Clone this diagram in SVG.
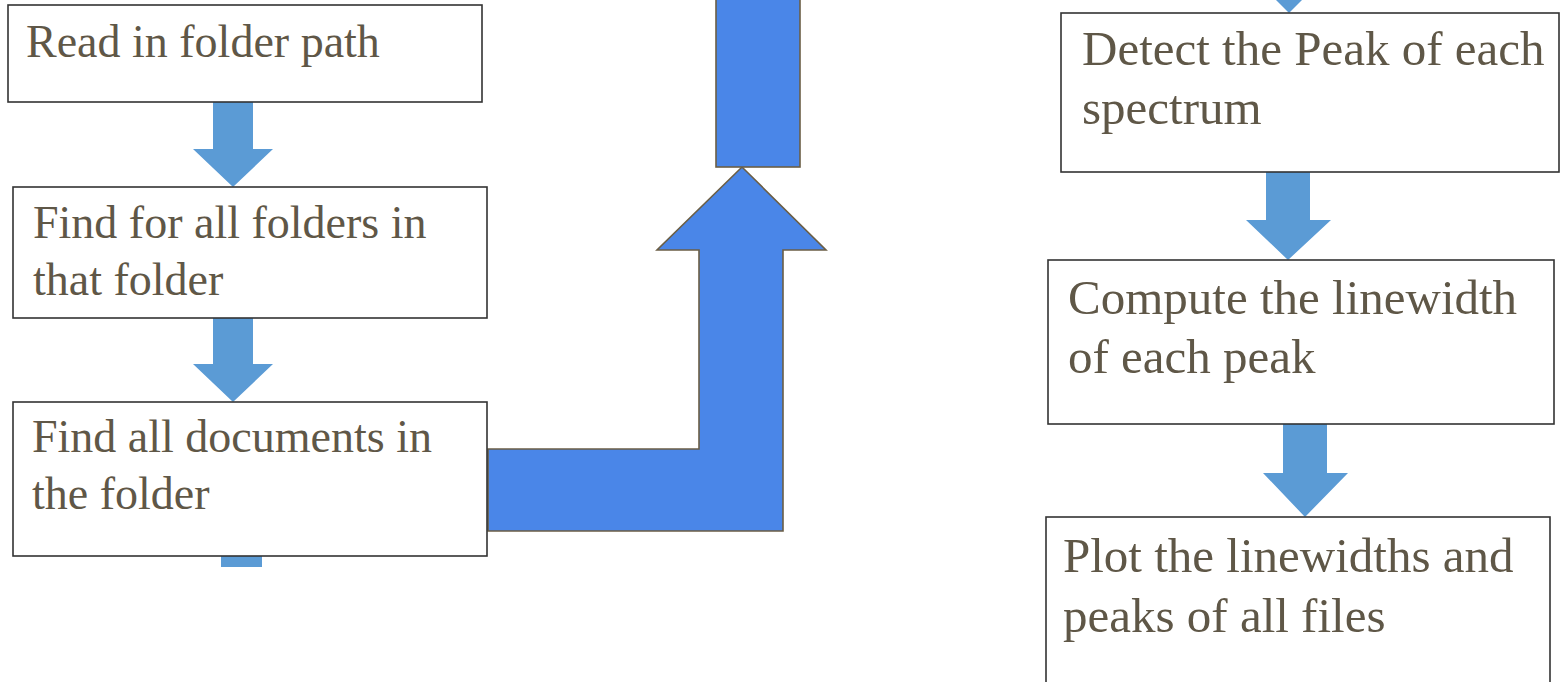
<svg xmlns="http://www.w3.org/2000/svg" width="1561" height="682" viewBox="0 0 1561 682">
<style>
.box{fill:#ffffff;stroke:#333333;stroke-width:1.6}
.t{font-family:"Liberation Serif","Times New Roman",serif;fill:#5f5747}
.l{font-size:46px}
.r{font-size:49px}
.sa{fill:#5b9bd5}
.big{fill:#4a86e8;stroke:#6b5e45;stroke-width:1.6;stroke-linejoin:miter}
</style>
<rect width="1561" height="682" fill="#ffffff"/>
<g id="connectors">
<polygon class="sa" points="213,102 253,102 253,149 273,149 233,187 193,149 213,149"/>
<polygon class="sa" points="213,318 253,318 253,364 273,364 233,402 193,364 213,364"/>
<rect class="sa" x="221" y="556" width="41" height="11"/>
<polygon class="big" points="488,449 699,449 699,250 657,250 742,167 826,250 783,250 783,531 488,531"/>
<rect class="big" x="716" y="-4" width="84" height="171"/>
<polygon class="sa" points="1247,-29 1331,-29 1289,13"/>
<polygon class="sa" points="1266,172 1310,172 1310,220 1331,220 1288,260 1246,220 1266,220"/>
<polygon class="sa" points="1283,424 1327,424 1327,473 1348,473 1305,517 1263,473 1283,473"/>
</g>
<g id="node-read">
<rect class="box" x="8" y="5" width="474" height="97"/>
<text class="t l" x="26" y="57">Read in folder path</text>
</g>
<g id="node-find-folders">
<rect class="box" x="13" y="187" width="474" height="131"/>
<text class="t l" x="33" y="238">Find for all folders in</text>
<text class="t l" x="33" y="295">that folder</text>
</g>
<g id="node-find-docs">
<rect class="box" x="13" y="402" width="474" height="154"/>
<text class="t l" x="32" y="452">Find all documents in</text>
<text class="t l" x="32" y="509">the folder</text>
</g>
<g id="node-detect">
<rect class="box" x="1061" y="13" width="498" height="159"/>
<text class="t r" x="1082" y="65">Detect the Peak of each</text>
<text class="t r" x="1082" y="124">spectrum</text>
</g>
<g id="node-compute">
<rect class="box" x="1048" y="260" width="506" height="164"/>
<text class="t r" x="1068" y="314">Compute the linewidth</text>
<text class="t r" x="1068" y="373">of each peak</text>
</g>
<g id="node-plot">
<rect class="box" x="1046" y="517" width="504" height="168"/>
<text class="t r" x="1063" y="572">Plot the linewidths and</text>
<text class="t r" x="1063" y="632">peaks of all files</text>
</g>
</svg>
